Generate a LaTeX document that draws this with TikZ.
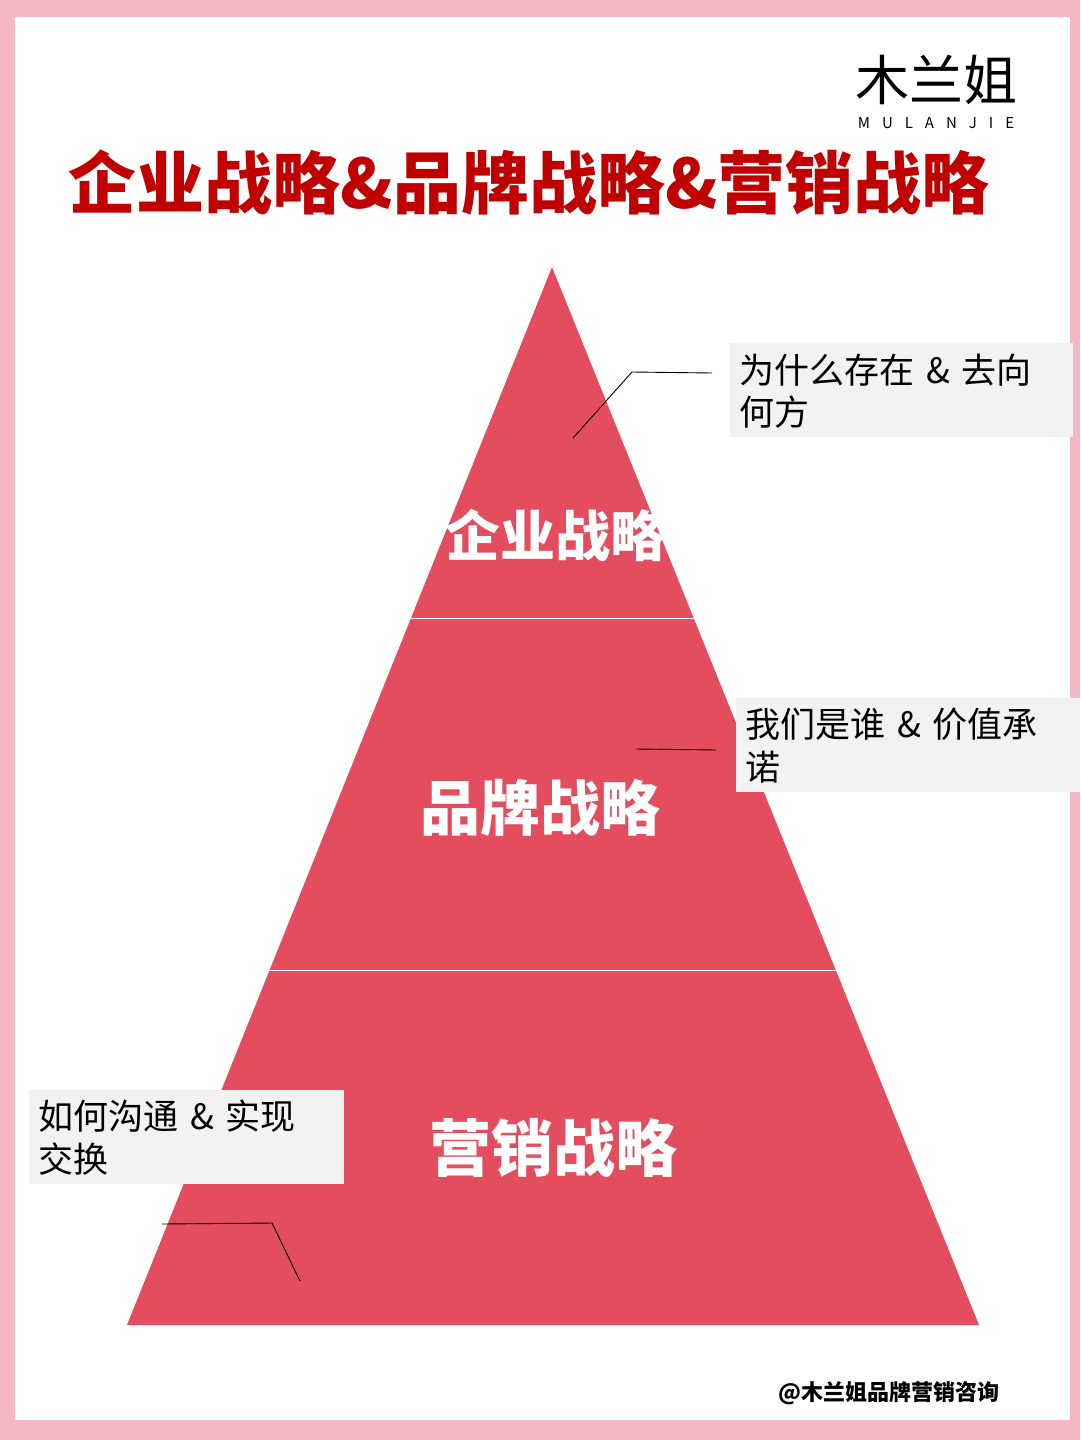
\documentclass[tikz,border=0pt]{standalone}
\usepackage{fontspec}
\setmainfont{Noto Sans CJK SC}
\newfontfamily\cjk{Noto Sans CJK SC}
\definecolor{pinkb}{HTML}{F4B8C4}
\definecolor{pyr}{HTML}{E44D5E}
\definecolor{ttl}{HTML}{C00000}
\definecolor{boxg}{HTML}{F2F2F2}
\newcommand{\amp}{\hspace{12pt}\&\hspace{12pt}}
\begin{document}
\begin{tikzpicture}[x=1pt,y=-1pt,
  lt/.style={font=\cjk\fontsize{35}{42}\selectfont,anchor=west,inner sep=0pt},
  pl/.style={text=white,inner sep=0pt},
  con/.style={draw=black,line width=0.9pt}]
\useasboundingbox (0,0) rectangle (1080,1440);
\fill[pinkb] (0,0) rectangle (1080,1440);
\fill[white] (15,17) rectangle (1070,1420);
\fill[pyr] (552,267) -- (979,1325) -- (127,1325) -- cycle;
\draw[white,line width=1pt] (411,618) -- (694,618);
\draw[white,line width=1pt] (268,970) -- (836,970);
\node[inner sep=0pt,text=ttl,font=\cjk\bfseries\fontsize{68}{70}\selectfont] (title) at (529,182) {企业战略\&品牌战略\&营销战略};
\node[inner sep=0pt,font=\cjk\fontsize{54}{56}\selectfont] (logo) at (936,80) {木兰姐};
\node[inner sep=0pt,font=\cjk\fontsize{15}{16}\selectfont] (logo2) at (936,123) {M\hspace{0.8em}U\hspace{0.8em}L\hspace{0.8em}A\hspace{0.8em}N\hspace{0.8em}J\hspace{0.8em}I\hspace{0.8em}E};
\node[pl,font=\cjk\bfseries\fontsize{55}{60}\selectfont] (p1) at (555,535) {企业战略};
\node[pl,font=\cjk\bfseries\fontsize{60}{60}\selectfont] (p2) at (540,808) {品牌战略};
\node[pl,font=\cjk\bfseries\fontsize{62}{60}\selectfont] (p3) at (553,1148) {营销战略};
\fill[boxg] (730,343) rectangle (1073,437);
\node[lt] (t1a) at (739,370) {为什么存在\amp 去向};
\node[lt] (t1b) at (739,412) {何方};
\fill[boxg] (736,698) rectangle (1080,792);
\node[lt] (t2a) at (745,724) {我们是谁\amp 价值承};
\node[lt] (t2b) at (745,767) {诺};
\fill[boxg] (29,1090) rectangle (344,1184);
\node[lt] (t3a) at (38,1116) {如何沟通\amp 实现};
\node[lt] (t3b) at (38,1159) {交换};
\coordinate (a1) at (573,438); \coordinate (a2) at (632,372); \coordinate (a3) at (712,373);
\draw[con] (a1) -- (a2) -- (a3);
\coordinate (b1) at (636,749); \coordinate (b2) at (716,750);
\draw[con] (b1) -- (b2);
\coordinate (c1) at (162,1224); \coordinate (c2) at (272,1223); \coordinate (c3) at (300,1281);
\draw[con] (c1) -- (c2) -- (c3);
\node[inner sep=0pt,anchor=east,font=\cjk\bfseries\fontsize{22}{24}\selectfont] (foot) at (1000,1393) {@木兰姐品牌营销咨询};
\end{tikzpicture}
\end{document}
